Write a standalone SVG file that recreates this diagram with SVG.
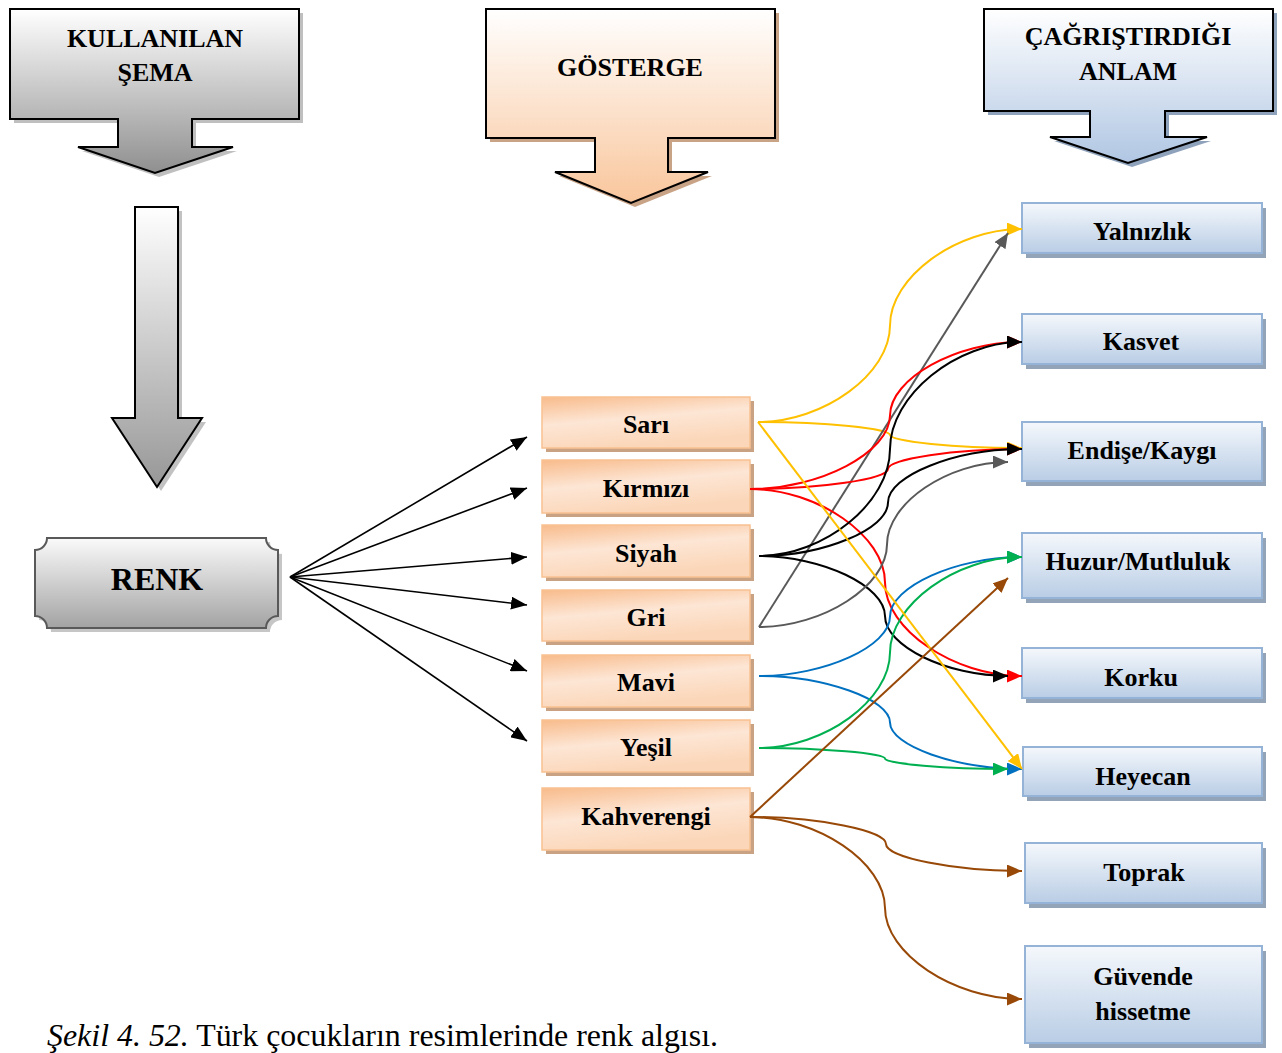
<svg xmlns="http://www.w3.org/2000/svg" width="1282" height="1053" viewBox="0 0 1282 1053">
<style>
.t{font-family:"Liberation Serif","Times New Roman",serif;font-weight:bold;font-size:26px;fill:#000;text-anchor:middle}
.big{font-size:32px}
.hdr{stroke:#000;stroke-width:2;stroke-linejoin:miter}
.ob{fill:url(#gOr);stroke:#f9c191;stroke-width:1.5}
.os{fill:#c9a284}
.bb{fill:url(#gBl);stroke:#95b3d7;stroke-width:2}
.bs{fill:#93a3b8}
.c{fill:none;stroke-width:2}
.k{stroke:#000}.r{stroke:#ff0000}.y{stroke:#ffc000}.g{stroke:#595959}.b{stroke:#0070c0}.gr{stroke:#00b050}.br{stroke:#984807}
.rk{fill:none;stroke:#000;stroke-width:1.6}
.cap{font-family:"Liberation Serif","Times New Roman",serif;font-size:31px;fill:#000}
</style>
<defs>
<linearGradient id="gGray" x1="0" y1="0" x2="0" y2="1"><stop offset="0" stop-color="#ffffff"/><stop offset="1" stop-color="#8f8f8f"/></linearGradient>
<linearGradient id="gGray2" x1="0" y1="0" x2="0" y2="1"><stop offset="0" stop-color="#ffffff"/><stop offset="1" stop-color="#979797"/></linearGradient>
<linearGradient id="gRenk" x1="0" y1="0" x2="0" y2="1"><stop offset="0" stop-color="#fafafa"/><stop offset="1" stop-color="#a3a3a3"/></linearGradient>
<linearGradient id="gPeach" x1="0" y1="0" x2="0" y2="1"><stop offset="0" stop-color="#ffffff"/><stop offset="1" stop-color="#f9c69c"/></linearGradient>
<linearGradient id="gBlueH" x1="0" y1="0" x2="0" y2="1"><stop offset="0" stop-color="#ffffff"/><stop offset="1" stop-color="#b0c6e3"/></linearGradient>
<linearGradient id="gOr" x1="0" y1="0" x2="0.35" y2="1"><stop offset="0" stop-color="#f8bb8b"/><stop offset="0.5" stop-color="#fde6d5"/><stop offset="1" stop-color="#fbd6b8"/></linearGradient>
<linearGradient id="gBl" x1="0" y1="0" x2="0" y2="1"><stop offset="0" stop-color="#f5f8fc"/><stop offset="1" stop-color="#b9cde5"/></linearGradient>
<marker id="mk" viewBox="0 0 15 13" markerWidth="15" markerHeight="13" refX="15" refY="6.5" orient="auto" markerUnits="userSpaceOnUse"><path d="M0,0 L15,6.5 L0,13 Z" fill="#000"/></marker>
<marker id="mr" viewBox="0 0 15 13" markerWidth="15" markerHeight="13" refX="15" refY="6.5" orient="auto" markerUnits="userSpaceOnUse"><path d="M0,0 L15,6.5 L0,13 Z" fill="#ff0000"/></marker>
<marker id="my" viewBox="0 0 15 13" markerWidth="15" markerHeight="13" refX="15" refY="6.5" orient="auto" markerUnits="userSpaceOnUse"><path d="M0,0 L15,6.5 L0,13 Z" fill="#ffc000"/></marker>
<marker id="mg" viewBox="0 0 15 13" markerWidth="15" markerHeight="13" refX="15" refY="6.5" orient="auto" markerUnits="userSpaceOnUse"><path d="M0,0 L15,6.5 L0,13 Z" fill="#595959"/></marker>
<marker id="mb" viewBox="0 0 15 13" markerWidth="15" markerHeight="13" refX="15" refY="6.5" orient="auto" markerUnits="userSpaceOnUse"><path d="M0,0 L15,6.5 L0,13 Z" fill="#0070c0"/></marker>
<marker id="mgr" viewBox="0 0 15 13" markerWidth="15" markerHeight="13" refX="15" refY="6.5" orient="auto" markerUnits="userSpaceOnUse"><path d="M0,0 L15,6.5 L0,13 Z" fill="#00b050"/></marker>
<marker id="mbr" viewBox="0 0 15 13" markerWidth="15" markerHeight="13" refX="15" refY="6.5" orient="auto" markerUnits="userSpaceOnUse"><path d="M0,0 L15,6.5 L0,13 Z" fill="#984807"/></marker>
<marker id="mk2" viewBox="0 0 16 13" markerWidth="16" markerHeight="13" refX="16" refY="6.5" orient="auto" markerUnits="userSpaceOnUse"><path d="M0,0 L16,6.5 L0,13 Z" fill="#000"/></marker>
</defs>
<rect width="1282" height="1053" fill="#ffffff"/>

<g id="hdr-kullanilan">
<path d="M10,9 H299 V119 H192 V147 H233 L155,173 L78,147 H118 V119 H10 Z" fill="#8a8a8a" opacity="0.55" transform="translate(4,4)"/>
<path class="hdr" d="M10,9 H299 V119 H192 V147 H233 L155,173 L78,147 H118 V119 H10 Z" fill="url(#gGray)"/>
<text class="t" x="155" y="47">KULLANILAN</text>
<text class="t" x="155" y="81">ŞEMA</text>
</g>

<g id="hdr-gosterge">
<path d="M486,9 H775 V138 H668 V172 H708 L631,203 L555,172 H595 V138 H486 Z" fill="#c9a386" transform="translate(4,4)"/>
<path class="hdr" d="M486,9 H775 V138 H668 V172 H708 L631,203 L555,172 H595 V138 H486 Z" fill="url(#gPeach)"/>
<text class="t" x="630" y="76">GÖSTERGE</text>
</g>

<g id="hdr-anlam">
<path d="M984,9 H1273 V111 H1165 V137 H1207 L1128,163 L1050,137 H1090 V111 H984 Z" fill="#8fa2bb" transform="translate(4,4)"/>
<path class="hdr" d="M984,9 H1273 V111 H1165 V137 H1207 L1128,163 L1050,137 H1090 V111 H984 Z" fill="url(#gBlueH)"/>
<text class="t" x="1128" y="45">ÇAĞRIŞTIRDIĞI</text>
<text class="t" x="1128" y="80">ANLAM</text>
</g>

<g id="down-arrow">
<path d="M135,207 H178 V418 H202 L157,487 L112,418 H135 Z" fill="#9a9a9a" opacity="0.6" transform="translate(4,4)"/>
<path class="hdr" d="M135,207 H178 V418 H202 L157,487 L112,418 H135 Z" fill="url(#gGray2)"/>
</g>

<g id="renk">
<path d="M47,538 H266 A12,12 0 0 0 278,550 V616 A12,12 0 0 0 266,628 H47 A12,12 0 0 0 35,616 V550 A12,12 0 0 0 47,538 Z" fill="#a0a0a0" opacity="0.6" transform="translate(4,4)"/>
<path d="M47,538 H266 A12,12 0 0 0 278,550 V616 A12,12 0 0 0 266,628 H47 A12,12 0 0 0 35,616 V550 A12,12 0 0 0 47,538 Z" fill="url(#gRenk)" stroke="#595959" stroke-width="2"/>
<text class="t big" x="157" y="590">RENK</text>
</g>

<g id="sari"><rect class="os" x="546" y="401" width="208" height="51"/><rect class="ob" x="542" y="397" width="208" height="51"/><text class="t" x="646" y="433">Sarı</text></g>
<g id="kirmizi"><rect class="os" x="546" y="464" width="208" height="53"/><rect class="ob" x="542" y="460" width="208" height="53"/><text class="t" x="646" y="497">Kırmızı</text></g>
<g id="siyah"><rect class="os" x="546" y="529" width="208" height="52"/><rect class="ob" x="542" y="525" width="208" height="52"/><text class="t" x="646" y="562">Siyah</text></g>
<g id="gri"><rect class="os" x="546" y="594" width="208" height="51"/><rect class="ob" x="542" y="590" width="208" height="51"/><text class="t" x="646" y="626">Gri</text></g>
<g id="mavi"><rect class="os" x="546" y="659" width="208" height="52"/><rect class="ob" x="542" y="655" width="208" height="52"/><text class="t" x="646" y="691">Mavi</text></g>
<g id="yesil"><rect class="os" x="546" y="724" width="208" height="52"/><rect class="ob" x="542" y="720" width="208" height="52"/><text class="t" x="646" y="756">Yeşil</text></g>
<g id="kahverengi"><rect class="os" x="546" y="792" width="208" height="62"/><rect class="ob" x="542" y="788" width="208" height="62"/><text class="t" x="646" y="825">Kahverengi</text></g>

<g id="yalnizlik"><rect class="bs" x="1026" y="208" width="240" height="50"/><rect class="bb" x="1022" y="203" width="240" height="50"/><text class="t" x="1142" y="240">Yalnızlık</text></g>
<g id="kasvet"><rect class="bs" x="1026" y="319" width="240" height="50"/><rect class="bb" x="1022" y="314" width="240" height="50"/><text class="t" x="1141" y="350">Kasvet</text></g>
<g id="endise"><rect class="bs" x="1026" y="427" width="240" height="59"/><rect class="bb" x="1022" y="422" width="240" height="59"/><text class="t" x="1142" y="459">Endişe/Kaygı</text></g>
<g id="huzur"><rect class="bs" x="1026" y="538" width="240" height="65"/><rect class="bb" x="1022" y="533" width="240" height="65"/><text class="t" x="1138" y="570">Huzur/Mutluluk</text></g>
<g id="korku"><rect class="bs" x="1026" y="653" width="240" height="50"/><rect class="bb" x="1022" y="648" width="240" height="50"/><text class="t" x="1141" y="686">Korku</text></g>
<g id="heyecan"><rect class="bs" x="1027" y="752" width="239" height="49"/><rect class="bb" x="1023" y="747" width="239" height="49"/><text class="t" x="1143" y="785">Heyecan</text></g>
<g id="toprak"><rect class="bs" x="1029" y="848" width="237" height="60"/><rect class="bb" x="1025" y="843" width="237" height="60"/><text class="t" x="1144" y="881">Toprak</text></g>
<g id="guvende"><rect class="bs" x="1029" y="951" width="237" height="97"/><rect class="bb" x="1025" y="946" width="237" height="97"/><text class="t" x="1143" y="985">Güvende</text><text class="t" x="1143" y="1020">hissetme</text></g>

<g id="connectors">
<path class="rk" d="M290,577 L527,437" marker-end="url(#mk2)"/>
<path class="rk" d="M290,577 L527,488" marker-end="url(#mk2)"/>
<path class="rk" d="M290,577 L527,557" marker-end="url(#mk2)"/>
<path class="rk" d="M290,577 L527,605" marker-end="url(#mk2)"/>
<path class="rk" d="M290,577 L527,671" marker-end="url(#mk2)"/>
<path class="rk" d="M290,577 L527,741" marker-end="url(#mk2)"/>

<path class="c y" d="M758,422 C824,422 890,373.75 890,325.5 C890,277.25 956,229 1022,229" marker-end="url(#my)"/>
<path class="c y" d="M758,422 C824,422 890,428.5 890,435 C890,441.5 956,448 1022,448" marker-end="url(#my)"/>
<path class="c g" d="M759,627 L1008,233" marker-end="url(#mg)"/>
<path class="c r" d="M750,489 C820,489 890,452.25 890,415.5 C890,378.75 956,342 1022,342" marker-end="url(#mr)"/>
<path class="c r" d="M750,489 C819,489 888,479 888,469 C888,459 955,449 1022,449" marker-end="url(#mr)"/>
<path class="c r" d="M750,489 C817.5,489 885,535.75 885,582.5 C885,629.25 953.5,676 1022,676" marker-end="url(#mr)"/>
<path class="c k" d="M759,556 C824.5,556 890,502.5 890,449 C890,395.5 956,342 1022,342" marker-end="url(#mk)"/>
<path class="c k" d="M759,556 C823.5,556 888,529.25 888,502.5 C888,475.75 955,449 1022,449" marker-end="url(#mk)"/>
<path class="c k" d="M759,556 C822,556 885,586 885,616 C885,646 946.5,676 1008,676" marker-end="url(#mk)"/>
<path class="c g" d="M759,627 C823,627 887,585.75 887,544.5 C887,503.25 947.5,462 1008,462" marker-end="url(#mg)"/>
<path class="c b" d="M759,676 C824.5,676 890,646.25 890,616.5 C890,586.75 956,557 1022,557" marker-end="url(#mb)"/>
<path class="c b" d="M759,676 C824.5,676 890,699.25 890,722.5 C890,745.75 956,769 1022,769" marker-end="url(#mb)"/>
<path class="c gr" d="M759,748 C824.5,748 890,700.25 890,652.5 C890,604.75 956,557 1022,557" marker-end="url(#mgr)"/>
<path class="c gr" d="M759,748 C822,748 885,753.25 885,758.5 C885,763.75 946.5,769 1008,769" marker-end="url(#mgr)"/>
<path class="c y" d="M758,422 L1022,769" marker-end="url(#my)"/>
<path class="c br" d="M750,817 L1008,578" marker-end="url(#mbr)"/>
<path class="c br" d="M750,817 C818,817 886,830.5 886,844 C886,857.5 954,871 1022,871" marker-end="url(#mbr)"/>
<path class="c br" d="M750,817 C817.5,817 885,862.5 885,908 C885,953.5 953.5,999 1022,999" marker-end="url(#mbr)"/>
</g>

<text class="cap" x="47" y="1046" textLength="671" lengthAdjust="spacingAndGlyphs"><tspan font-style="italic">Şekil 4. 52.</tspan> Türk çocukların resimlerinde renk algısı.</text>
</svg>
